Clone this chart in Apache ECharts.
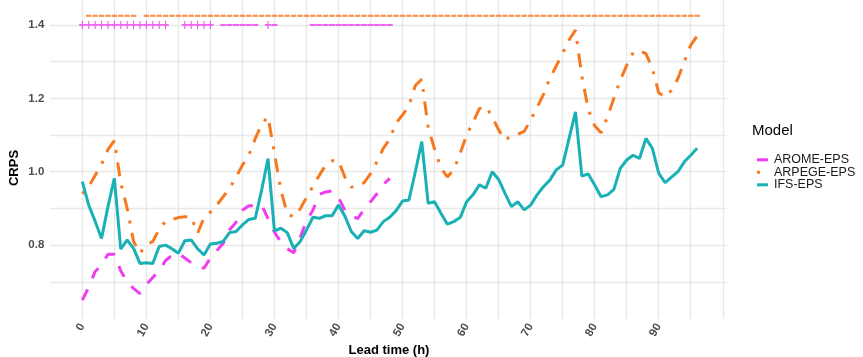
<!DOCTYPE html>
<html>
<head>
<meta charset="utf-8">
<script src="https://cdn.jsdelivr.net/npm/echarts@6/dist/echarts.min.js"></script>
<style>
html,body{margin:0;padding:0;background:#fff;}
#chart{width:863px;height:357px;}
</style>
</head>
<body>
<div id="chart"></div>
<script>
// ---- data ----
const hours = [0,1,2,3,4,5,6,7,8,9,10,11,12,13,14,15,16,17,18,19,20,21,22,23,24,25,26,27,28,29,30,31,32,33,34,35,36,37,38,39,40,41,42,43,44,45,46,47,48,49,50,51,52,53,54,55,56,57,58,59,60,61,62,63,64,65,66,67,68,69,70,71,72,73,74,75,76,77,78,79,80,81,82,83,84,85,86,87,88,89,90,91,92,93,94,95,96];

const aromeCRPS = [0.650,0.685,0.728,0.746,0.775,0.775,0.730,0.700,0.682,0.668,0.692,0.712,0.730,0.758,0.772,0.778,0.765,0.752,0.742,0.737,0.765,0.785,0.805,0.842,0.862,0.895,0.907,0.907,0.909,0.872,0.835,0.809,0.790,0.779,0.820,0.866,0.895,0.938,0.945,0.948,0.930,0.895,0.880,0.872,0.898,0.918,0.940,0.965,0.982];

const arpegeCRPS = [0.940,0.960,0.990,1.020,1.060,1.085,0.970,0.900,0.810,0.778,0.800,0.810,0.843,0.865,0.870,0.875,0.877,0.877,0.832,0.875,0.890,0.909,0.932,0.955,0.985,1.018,1.045,1.090,1.130,1.150,1.050,0.950,0.885,0.877,0.898,0.930,0.960,0.990,1.018,1.030,1.030,0.985,0.958,0.962,0.970,0.995,1.027,1.064,1.089,1.133,1.155,1.180,1.235,1.252,1.120,1.062,1.010,0.986,1.005,1.050,1.100,1.135,1.172,1.178,1.150,1.114,1.086,1.098,1.102,1.110,1.141,1.175,1.210,1.255,1.288,1.323,1.359,1.386,1.260,1.170,1.125,1.106,1.150,1.200,1.250,1.290,1.325,1.330,1.322,1.282,1.215,1.204,1.222,1.254,1.300,1.345,1.370];

const ifsCRPS = [0.973,0.909,0.865,0.818,0.905,0.982,0.789,0.814,0.791,0.750,0.752,0.750,0.796,0.800,0.790,0.778,0.812,0.814,0.790,0.773,0.803,0.805,0.810,0.834,0.837,0.855,0.870,0.873,0.950,1.036,0.839,0.846,0.834,0.791,0.809,0.841,0.876,0.873,0.880,0.880,0.909,0.879,0.837,0.818,0.839,0.835,0.841,0.864,0.876,0.894,0.920,0.923,1.000,1.082,0.914,0.918,0.887,0.857,0.864,0.875,0.918,0.937,0.964,0.955,1.000,0.979,0.941,0.905,0.918,0.896,0.909,0.937,0.959,0.977,1.005,1.018,1.090,1.163,0.988,0.994,0.964,0.932,0.937,0.952,1.009,1.032,1.045,1.036,1.091,1.064,0.996,0.970,0.985,1.000,1.027,1.045,1.064];

// significance markers (lead hours)
const arpegeSigHours = [1,2,3,4,5,6,7,8,10,11,12,13,14,15,16,17,18,19,20,21,22,23,24,25,26,27,28,29,30,31,32,33,34,35,36,37,38,39,40,41,42,43,44,45,46,47,48,49,50,51,52,53,54,55,56,57,58,59,60,61,62,63,64,65,66,67,68,69,70,71,72,73,74,75,76,77,78,79,80,81,82,83,84,85,86,87,88,89,90,91,92,93,94,95,96];
const aromeSigPlusHours = [0,1,2,3,4,5,6,7,8,9,10,11,12,13,16,17,18,19,20,29];
const aromeSigMinusHours = [22,23,24,25,26,27,30,36,37,38,39,40,41,42,43,44,45,46,47,48];
const arpegeSigLevel = 1.425;
const aromeSigLevel = 1.4;

const xTickLabels = [0,10,20,30,40,50,60,70,80,90];
const yTickLabels = [0.8,1.0,1.2,1.4];
const modelNames = ['AROME-EPS','ARPEGE-EPS','IFS-EPS'];

// ---- styles ----
const C_AROME = '#f03cf0';
const C_ARPEGE = '#f7791f';
const C_IFS = '#19b1b6';
const FONT = 'Liberation Sans, Arial, sans-serif';

const pairs = (xs, ys) => ys.map((v, i) => [xs[i], v]);
const level = (xs, lv) => xs.map(h => [h, lv]);
const near = (v, list) => list.some(t => Math.abs(t - v) < 1e-6);

const chart = echarts.init(document.getElementById('chart'), null, {renderer: 'canvas'});
chart.setOption({
  animation: false,
  backgroundColor: '#ffffff',
  grid: {left: 50.3, right: 136.4, top: 0, bottom: 38.5, containLabel: false},
  xAxis: {
    type: 'value', min: -5, max: 100.6, interval: 5,
    axisLine: {show: false}, axisTick: {show: false},
    splitLine: {show: true, showMinLine: false, showMaxLine: false, lineStyle: {color: '#e8e8e8', width: 1.3}},
    axisLabel: {
      rotate: 60, margin: 6, fontSize: 11.5, fontWeight: 'bold', color: '#4d4d4d', fontFamily: FONT,
      showMinLabel: true, showMaxLabel: true,
      formatter: v => near(v, xTickLabels) ? String(Math.round(v)) : ''
    }
  },
  yAxis: {
    type: 'value', min: 0.6, max: 1.468, interval: 0.1,
    axisLine: {show: false}, axisTick: {show: false},
    splitLine: {show: true, showMinLine: false, showMaxLine: false, lineStyle: {color: '#e8e8e8', width: 1.3}},
    axisLabel: {
      margin: 6, fontSize: 11.5, fontWeight: 'bold', color: '#4d4d4d', fontFamily: FONT,
      formatter: v => near(v, yTickLabels) ? v.toFixed(1) : ''
    }
  },
  legend: {
    orient: 'vertical', left: 752, top: 148.3,
    itemWidth: 11, itemHeight: 3, itemGap: -0.5,
    itemStyle: {borderWidth: 0},
    textStyle: {fontSize: 12.5, lineHeight: 12, color: '#1a1a1a', fontFamily: FONT, padding: [0, 0, 0, 1]},
    selectedMode: false,
    data: [
      {name: modelNames[0], icon: 'rect'},
      {name: modelNames[1], icon: 'path://M0,0H3V3H0Z M11,0L11,3'},
      {name: modelNames[2], icon: 'rect'}
    ]
  },
  graphic: [
    {type: 'text', left: 752, top: 123, style: {text: 'Model', fontSize: 15, fill: '#000', fontFamily: FONT}},
    {type: 'text', x: 389, y: 350, style: {text: 'Lead time (h)', fontSize: 13, fontWeight: 'bold', fill: '#000', fontFamily: FONT, align: 'center', verticalAlign: 'middle'}},
    {type: 'text', x: 14, y: 168, rotation: Math.PI / 2, style: {text: 'CRPS', fontSize: 13, fontWeight: 'bold', fill: '#000', fontFamily: FONT, align: 'center', verticalAlign: 'middle'}}
  ],
  series: [
    {
      name: modelNames[0], type: 'line', data: pairs(hours, aromeCRPS), showSymbol: false, symbol: 'none',
      color: C_AROME, itemStyle: {color: C_AROME, borderWidth: 0},
      lineStyle: {color: C_AROME, width: 3, type: [12, 12], cap: 'butt'}, z: 2
    },
    {
      name: modelNames[1], type: 'line', data: pairs(hours, arpegeCRPS), showSymbol: false, symbol: 'none',
      color: C_ARPEGE, itemStyle: {color: C_ARPEGE, borderWidth: 0},
      lineStyle: {color: C_ARPEGE, width: 3, type: [3, 9.5, 14, 9.5], cap: 'butt'}, z: 3
    },
    {
      name: modelNames[2], type: 'line', data: pairs(hours, ifsCRPS), showSymbol: false, symbol: 'none',
      color: C_IFS, itemStyle: {color: C_IFS, borderWidth: 0},
      lineStyle: {color: C_IFS, width: 3, type: 'solid'}, z: 4
    },
    {
      name: 'sig-arpege', type: 'scatter', data: level(arpegeSigHours, arpegeSigLevel),
      symbol: 'rect', symbolSize: [5.4, 2.2], itemStyle: {color: C_ARPEGE}, silent: true, z: 5
    },
    {
      name: 'sig-arome-plus', type: 'scatter', data: level(aromeSigPlusHours, aromeSigLevel),
      symbol: 'path://M0,3.1H6.4V4.9H0Z M2.6,0H3.8V8H2.6Z', symbolSize: [6.4, 8], symbolKeepAspect: false,
      itemStyle: {color: C_AROME}, silent: true, z: 5
    },
    {
      name: 'sig-arome-minus', type: 'scatter', data: level(aromeSigMinusHours, aromeSigLevel),
      symbol: 'rect', symbolSize: [6.0, 2], itemStyle: {color: C_AROME}, silent: true, z: 5
    }
  ]
});
</script>
</body>
</html>
